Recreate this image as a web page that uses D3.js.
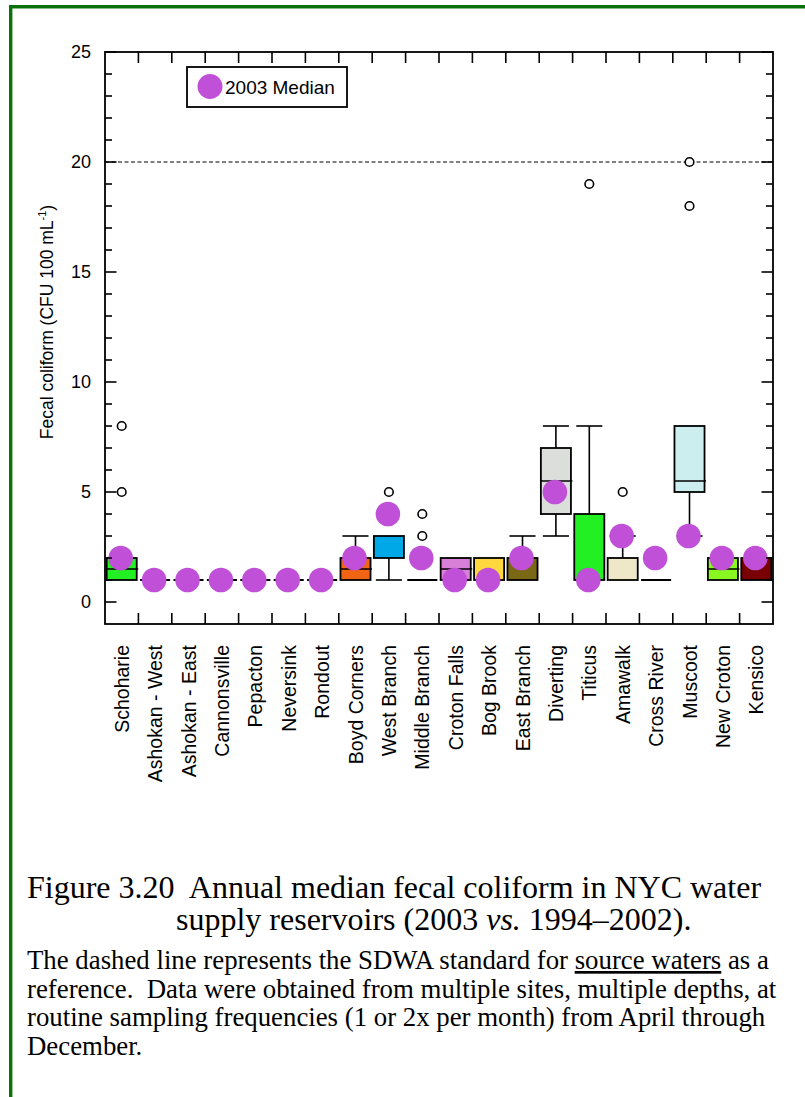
<!DOCTYPE html>
<html>
<head>
<meta charset="utf-8">
<script src="https://cdn.jsdelivr.net/npm/d3@7"></script>
<style>
  html, body { margin: 0; padding: 0; background: #fff; }
  svg { display: block; }
  .sans { font-family: "Liberation Sans", Arial, sans-serif; }
  .serif { font-family: "Liberation Serif", "Times New Roman", serif; }
</style>
</head>
<body>
<svg id="chart" width="805" height="1097"></svg>
<script>
// ---------- data ----------
const categories = ["Schoharie", "Ashokan - West", "Ashokan - East", "Cannonsville", "Pepacton",
  "Neversink", "Rondout", "Boyd Corners", "West Branch", "Middle Branch", "Croton Falls",
  "Bog Brook", "East Branch", "Diverting", "Titicus", "Amawalk", "Cross River", "Muscoot",
  "New Croton", "Kensico"];
const whiskerLow  = [1, 1, 1, 1, 1, 1, 1, 1, 1, 1, 1, 1, 1, 3, 1, 1, 1, 3, 1, 1];
const quartile1   = [1, 1, 1, 1, 1, 1, 1, 1, 2, 1, 1, 1, 1, 4, 1, 1, 1, 5, 1, 1];
const medians     = [1.5, 1, 1, 1, 1, 1, 1, 1.5, 2, 1, 1.5, 1, 1, 5.5, 1, 1, 1, 5.5, 1.5, 1];
const quartile3   = [2, 1, 1, 1, 1, 1, 1, 2, 3, 1, 2, 2, 2, 7, 4, 2, 1, 8, 2, 2];
const whiskerHigh = [2, 1, 1, 1, 1, 1, 1, 3, 3, 1, 2, 2, 3, 8, 8, 3, 1, 8, 2, 2];
const outliers    = [[5, 8], [], [], [], [], [], [], [], [5], [3, 4], [], [], [], [], [19], [5], [2], [18, 20], [], []];
const median2003  = [2, 1, 1, 1, 1, 1, 1, 2, 4, 2, 1, 1, 2, 5, 1, 3, 2, 3, 2, 2];
const boxColors   = ["#22f022", "#ffffff", "#ffffff", "#ffffff", "#ffffff", "#ffffff", "#ffffff",
  "#f06414", "#00a8e8", "#ffffff", "#d880d8", "#ffd840", "#7a6814", "#dcdedc", "#22f022",
  "#efe8c8", "#ffffff", "#cdeeee", "#88f820", "#780000"];
const yTickLabels = [0, 5, 10, 15, 20, 25];
const sdwaStandard = 20;
const legendLabel = "2003 Median";

// ---------- layout ----------
const svg = d3.select("#chart");
const W = 805, H = 1097;
const plot = { left: 105, right: 773, top: 52, bottom: 624 };
const dotColor = "#c050d8";

// border
svg.append("path")
  .attr("d", `M${W + 5},6.7 H10.7 V${H + 5}`)
  .attr("fill", "none").attr("stroke", "#0b720b").attr("stroke-width", 3.4);

const x = d3.scaleBand().domain(categories).range([plot.left, plot.right]).padding(0);
const y = d3.scaleLinear().domain([-1, 25]).range([plot.bottom, plot.top]);
const step = x.step();
const boxW = step * 0.9;
const capW = step * 0.78;

const g = svg.append("g").attr("class", "sans");

// SDWA standard dashed line
g.append("line")
  .attr("x1", plot.left).attr("x2", plot.right)
  .attr("y1", y(sdwaStandard)).attr("y2", y(sdwaStandard))
  .attr("stroke", "#000").attr("stroke-width", 1.2).attr("stroke-dasharray", "4,2.5");

// boxes
const rows = categories.map((c, i) => ({
  c, lo: whiskerLow[i], q1: quartile1[i], med: medians[i], q3: quartile3[i],
  hi: whiskerHigh[i], out: outliers[i], m03: median2003[i], col: boxColors[i]
}));

const bg = g.selectAll("g.box").data(rows).join("g").attr("class", "box")
  .attr("transform", d => `translate(${x(d.c) + step / 2},0)`);

// whiskers
bg.filter(d => d.hi > d.q3).append("line")
  .attr("x1", 0).attr("x2", 0).attr("y1", d => y(d.q3)).attr("y2", d => y(d.hi))
  .attr("stroke", "#000").attr("stroke-width", 1.6);
bg.filter(d => d.hi > d.q3).append("line")
  .attr("x1", -capW / 2).attr("x2", capW / 2).attr("y1", d => y(d.hi)).attr("y2", d => y(d.hi))
  .attr("stroke", "#000").attr("stroke-width", 1.6);
bg.filter(d => d.lo < d.q1).append("line")
  .attr("x1", 0).attr("x2", 0).attr("y1", d => y(d.q1)).attr("y2", d => y(d.lo))
  .attr("stroke", "#000").attr("stroke-width", 1.6);
bg.filter(d => d.lo < d.q1).append("line")
  .attr("x1", -capW / 2).attr("x2", capW / 2).attr("y1", d => y(d.lo)).attr("y2", d => y(d.lo))
  .attr("stroke", "#000").attr("stroke-width", 1.6);

// box rectangles
bg.filter(d => d.q3 > d.q1).append("rect")
  .attr("x", -boxW / 2).attr("width", boxW)
  .attr("y", d => y(d.q3)).attr("height", d => y(d.q1) - y(d.q3))
  .attr("fill", d => d.col).attr("stroke", "#000").attr("stroke-width", 1.8);
// collapsed boxes
bg.filter(d => d.q3 === d.q1).append("line")
  .attr("x1", -boxW / 2).attr("x2", boxW / 2).attr("y1", d => y(d.q1)).attr("y2", d => y(d.q1))
  .attr("stroke", "#000").attr("stroke-width", 2);
// medians
bg.filter(d => d.med > d.q1 && d.med < d.q3).append("line")
  .attr("x1", -boxW / 2).attr("x2", boxW / 2 + 1.5).attr("y1", d => y(d.med)).attr("y2", d => y(d.med))
  .attr("stroke", "#000").attr("stroke-width", 1.6);

// outliers
bg.selectAll("circle.out").data(d => d.out).join("circle").attr("class", "out")
  .attr("cx", 0).attr("cy", v => y(v)).attr("r", 4.3)
  .attr("fill", "#fff").attr("stroke", "#000").attr("stroke-width", 1.6);

// 2003 medians
bg.append("circle")
  .attr("cx", -1).attr("cy", d => y(d.m03)).attr("r", 12.3)
  .attr("fill", dotColor);

// frame
g.append("rect")
  .attr("x", plot.left).attr("y", plot.top)
  .attr("width", plot.right - plot.left).attr("height", plot.bottom - plot.top)
  .attr("fill", "none").attr("stroke", "#000").attr("stroke-width", 1.8);

// y ticks (left and right, inward)
const minorTicks = d3.range(0, 26, 1);
[plot.left, plot.right].forEach((xx, side) => {
  const dir = side === 0 ? 1 : -1;
  g.append("g").selectAll("line").data(minorTicks).join("line")
    .attr("x1", xx).attr("x2", v => xx + dir * (v % 5 === 0 ? 11.5 : 7))
    .attr("y1", v => y(v)).attr("y2", v => y(v))
    .attr("stroke", "#000").attr("stroke-width", 1.6);
});
// x ticks (top and bottom, at category boundaries)
const bounds = categories.slice(1).map(c => x(c));
g.append("g").selectAll("line").data(bounds).join("line")
  .attr("x1", d => d).attr("x2", d => d).attr("y1", plot.top).attr("y2", plot.top + 11)
  .attr("stroke", "#000").attr("stroke-width", 1.6);
g.append("g").selectAll("line").data(bounds).join("line")
  .attr("x1", d => d).attr("x2", d => d).attr("y1", plot.bottom).attr("y2", plot.bottom - 11)
  .attr("stroke", "#000").attr("stroke-width", 1.6);

// y tick labels
g.append("g").selectAll("text").data(yTickLabels).join("text")
  .attr("x", plot.left - 14).attr("y", v => y(v)).attr("dy", "0.36em")
  .attr("text-anchor", "end").attr("font-size", 18).text(v => v);

// category labels
g.append("g").selectAll("text").data(categories).join("text")
  .attr("transform", c => `translate(${x(c) + step / 2},645) rotate(-90)`)
  .attr("dy", "0.36em").attr("text-anchor", "end").attr("font-size", 19.5).text(c => c);

// y-axis title
const yt = g.append("text")
  .attr("transform", "translate(53,322) rotate(-90)")
  .attr("text-anchor", "middle").attr("font-size", 17.5);
yt.append("tspan").text("Fecal coliform (CFU 100 mL");
yt.append("tspan").attr("font-size", 11).attr("dy", -7).text("-1");
yt.append("tspan").attr("dy", 7).text(")");

// legend
g.append("rect").attr("x", 187).attr("y", 67).attr("width", 160).attr("height", 40)
  .attr("fill", "#fff").attr("stroke", "#000").attr("stroke-width", 1.8);
g.append("circle").attr("cx", 210).attr("cy", 86.5).attr("r", 12.5).attr("fill", dotColor);
g.append("text").attr("x", 225).attr("y", 87).attr("dy", "0.36em")
  .attr("font-size", 19).text(legendLabel);

// ---------- caption ----------
const cap = svg.append("g").attr("class", "serif").attr("fill", "#000");
cap.append("text").attr("x", 27).attr("y", 898).attr("font-size", 32)
  .text("Figure 3.20\u00A0 Annual median fecal coliform in NYC water");
const l2 = cap.append("text").attr("x", 176).attr("y", 930).attr("font-size", 32);
l2.append("tspan").text("supply reservoirs (2003 ");
l2.append("tspan").attr("font-style", "italic").text("vs.");
l2.append("tspan").text(" 1994–2002).");

const bodyLines = [
  ["The dashed line represents the SDWA standard for ", "source waters", " as a"],
  ["reference.\u00A0 Data were obtained from multiple sites, multiple depths, at"],
  ["routine sampling frequencies (1 or 2x per month) from April through"],
  ["December."]
];
bodyLines.forEach((parts, i) => {
  const t = cap.append("text").attr("x", 27).attr("y", 969 + i * 28.7).attr("font-size", 26.8);
  parts.forEach((p, k) => {
    const ts = t.append("tspan").text(p);
    if (parts.length === 3 && k === 1) ts.style("text-decoration", "underline");
  });
});
</script>
</body>
</html>
